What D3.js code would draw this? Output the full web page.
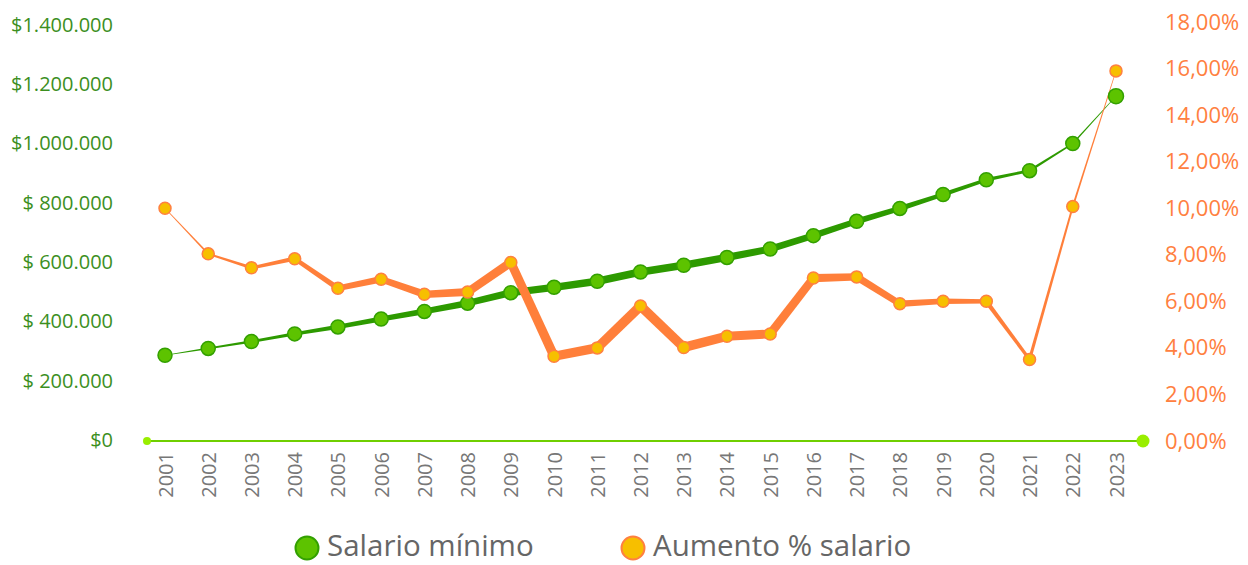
<!DOCTYPE html>
<html><head><meta charset="utf-8">
<script src="https://cdn.jsdelivr.net/npm/d3@7"></script>
<style>
html,body{margin:0;padding:0;background:#fff;}
svg{display:block;font-family:"Open Sans",sans-serif;}
</style></head>
<body><svg id="c" width="1248" height="565"></svg>
<script>
const years = ["2001","2002","2003","2004","2005","2006","2007","2008","2009","2010","2011","2012","2013","2014","2015","2016","2017","2018","2019","2020","2021","2022","2023"];
const salario = [286000,309000,332000,358000,381500,408000,433700,461500,496900,515000,535600,566700,589500,616000,644350,689455,737717,781242,828116,877803,908526,1000000,1160000];
const aumento = [10.0,8.04,7.44,7.83,6.56,6.95,6.30,6.40,7.67,3.64,4.00,5.80,4.02,4.50,4.60,7.00,7.05,5.90,6.00,6.00,3.50,10.07,15.9];
const leftTicks = [0,200000,400000,600000,800000,1000000,1200000,1400000];
const rightTicks = [0,2,4,6,8,10,12,14,16,18];

const svg = d3.select("#c");
const x = d3.scalePoint().domain(years).range([165,1116]);
const yL = d3.scaleLinear().domain([0,1400000]).range([440,25]);
const yR = d3.scaleLinear().domain([0,18]).range([441,22]);

function fmtL(v){
  if(v===0) return "$0";
  const s = d3.format(",")(v).replace(/,/g,".");
  return v>=1000000 ? "$"+s : "$ "+s;
}
function fmtR(v){ return d3.format(".2f")(v).replace(".",",")+"%"; }

// left axis
const gL = svg.append("g").attr("transform","translate(113,0)")
  .call(d3.axisLeft(yL).tickValues(leftTicks).tickFormat(fmtL).tickSize(0).tickPadding(0));
gL.select(".domain").remove();
gL.selectAll("text").attr("fill","#3c8f1e").style("font-size","20px").style("font-family","'Open Sans',sans-serif").attr("dy","0.32em");

// right axis
const gR = svg.append("g").attr("transform","translate(1165,0)")
  .call(d3.axisRight(yR).tickValues(rightTicks).tickFormat(fmtR).tickSize(0).tickPadding(0));
gR.select(".domain").remove();
gR.selectAll("text").attr("fill","#ff8040").style("font-size","22px").style("font-family","'Open Sans',sans-serif").attr("dy","0.32em");

// x axis
const gX = svg.append("g").attr("transform","translate(0,441)")
  .call(d3.axisBottom(x).tickSize(0).tickPadding(0));
gX.select(".domain").remove();
gX.selectAll("text").attr("fill","#777").style("font-size","20px").style("font-family","'Open Sans',sans-serif")
  .attr("transform","rotate(-90)").attr("text-anchor","end").attr("x",-11).attr("y",0).attr("dy","0.35em");

svg.append("line").attr("x1",147).attr("x2",1143).attr("y1",441).attr("y2",441).attr("stroke","#6fcf00").attr("stroke-width",2);
svg.append("circle").attr("cx",147).attr("cy",441).attr("r",4).attr("fill","#99ee00");
svg.append("circle").attr("cx",1143).attr("cy",441).attr("r",6.5).attr("fill","#99ee00");

// tapered line
function tapered(pts, maxW, color){
  const n = pts.length;
  const w = pts.map((p,i)=> maxW*Math.sin(Math.PI*i/(n-1)));
  const g = svg.append("g");
  for(let i=0;i<n-1;i++){
    const [x0,y0]=pts[i],[x1,y1]=pts[i+1];
    const dx=x1-x0, dy=y1-y0, L=Math.hypot(dx,dy);
    const nx=-dy/L, ny=dx/L;
    const a=w[i]/2+0.3, b=w[i+1]/2+0.3;
    g.append("path").attr("d",`M${x0+nx*a},${y0+ny*a}L${x1+nx*b},${y1+ny*b}L${x1-nx*b},${y1-ny*b}L${x0-nx*a},${y0-ny*a}Z`).attr("fill",color);
  }
  pts.forEach((p,i)=>{ if(w[i]>0.5) g.append("circle").attr("cx",p[0]).attr("cy",p[1]).attr("r",w[i]/2).attr("fill",color); });
}
const gPts = years.map((yr,i)=>[x(yr), yL(salario[i])]);
const oPts = years.map((yr,i)=>[x(yr), yR(aumento[i])]);
tapered(gPts, 7, "#2d9a00");
tapered(oPts, 9, "#ff7f3a");

svg.append("g").selectAll("circle").data(gPts).join("circle")
  .attr("cx",d=>d[0]).attr("cy",d=>d[1]).attr("r",(d,i)=> i===years.length-1?7.5:7)
  .attr("fill","#5dc300").attr("stroke","#33a000").attr("stroke-width",1.5);
svg.append("g").selectAll("circle").data(oPts).join("circle")
  .attr("cx",d=>d[0]).attr("cy",d=>d[1]).attr("r",6)
  .attr("fill","#f7bf00").attr("stroke","#ff8040").attr("stroke-width",1.5);

// legend
const legend = [{name:"Salario mínimo", fill:"#5dc300", stroke:"#33a000", x:307},
                {name:"Aumento % salario", fill:"#f7bf00", stroke:"#ff8040", x:633}];
const lg = svg.append("g").selectAll("g").data(legend).join("g").attr("transform",d=>`translate(${d.x},548)`);
lg.append("circle").attr("r",11.5).attr("fill",d=>d.fill).attr("stroke",d=>d.stroke).attr("stroke-width",2);
lg.append("text").attr("x",20).attr("y",8).text(d=>d.name).attr("fill","#666")
  .style("font-size","29.5px").style("font-family","'Open Sans',sans-serif");
</script></body></html>
